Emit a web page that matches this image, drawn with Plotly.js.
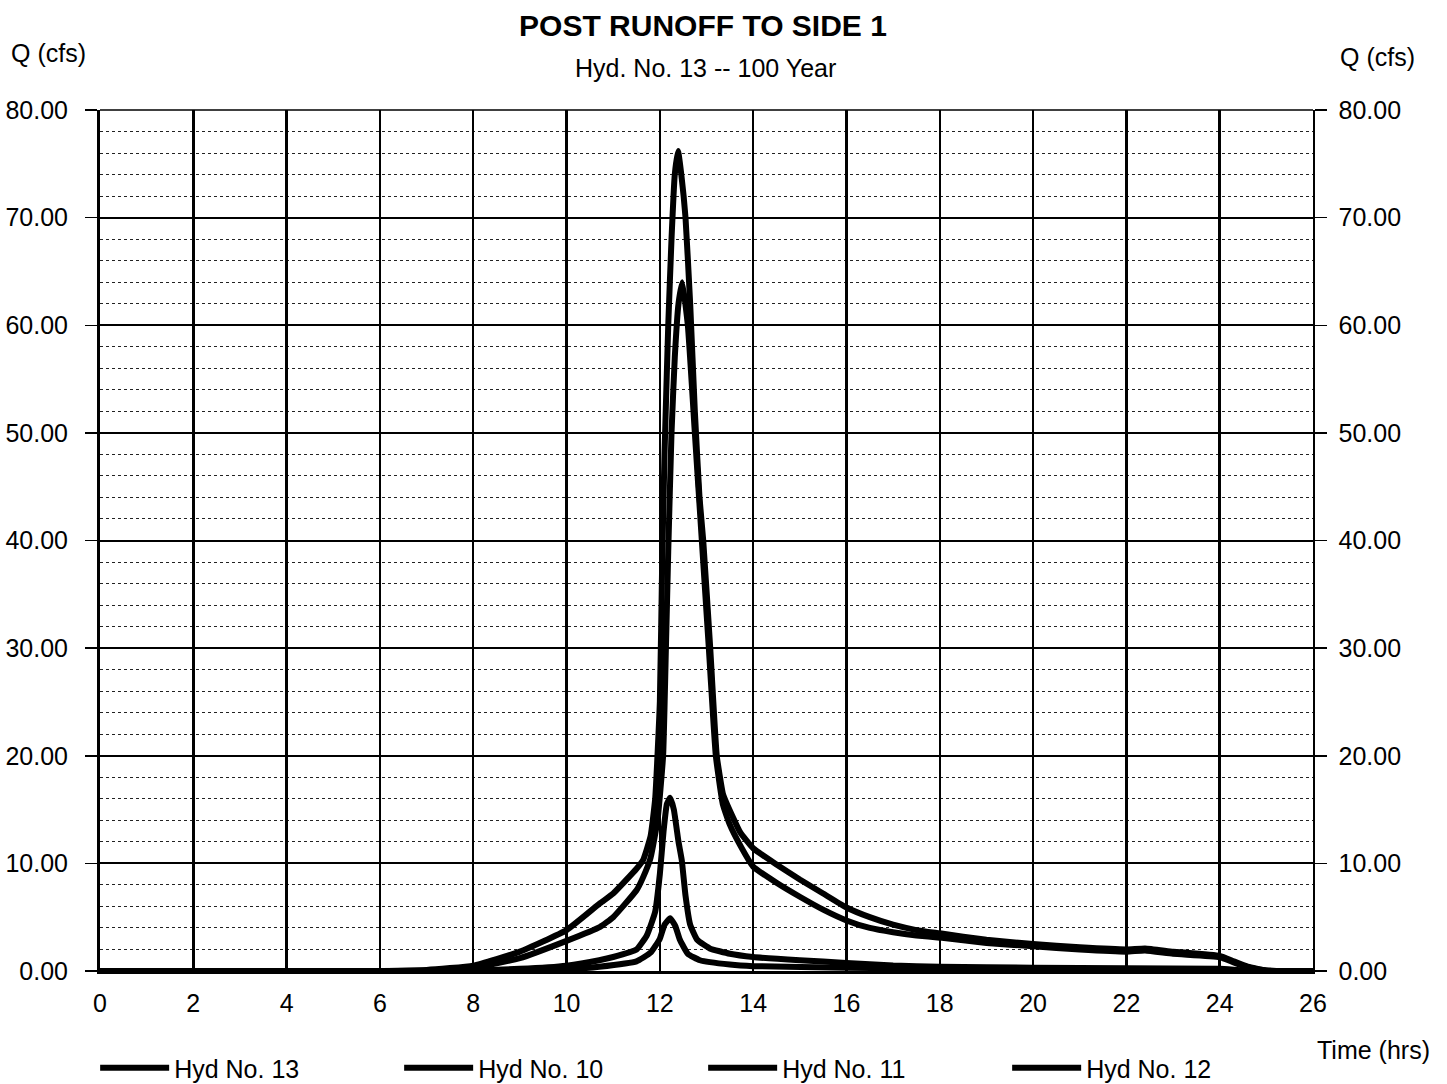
<!DOCTYPE html>
<html>
<head>
<meta charset="utf-8">
<script src="https://cdn.plot.ly/plotly-3.0.1.min.js"></script>
<style>html,body{margin:0;padding:0;background:#fff;}#chart{width:1447px;height:1084px;}</style>
</head>
<body>
<div id="chart"></div>
<script>
// ---- Data ----
var hyd13Time = [0, 6, 7, 8, 9, 10, 10.72, 11, 11.5, 11.64, 11.8, 11.9, 12.0, 12.05, 12.1, 12.18, 12.25, 12.32, 12.39, 12.46, 12.55, 12.65, 12.75, 12.85, 12.93, 13.08, 13.22, 13.35, 13.43, 13.72, 14.0, 14.5, 15.0, 15.5, 16.0, 16.5, 17.0, 17.5, 18.0, 19.0, 20.0, 21.0, 22.0, 22.4, 23.0, 24.0, 24.3, 24.6, 25.0, 26.0];
var hyd13Flow = [0, 0, 0.1, 0.5, 1.8, 3.8, 6.3, 7.2, 9.5, 10.3, 12.5, 16, 25, 38, 48, 60, 68, 74, 76.2, 74, 70, 62, 52, 44, 40, 30, 20, 16.5, 15.6, 12.9, 11.4, 9.9, 8.5, 7.2, 5.9, 5.0, 4.3, 3.8, 3.5, 2.9, 2.5, 2.2, 2.0, 2.1, 1.8, 1.4, 0.9, 0.4, 0.05, 0];

var hyd10Time = [0, 6, 7, 8, 9, 10, 10.72, 11, 11.5, 11.64, 11.8, 11.95, 12.07, 12.13, 12.18, 12.25, 12.32, 12.4, 12.48, 12.6, 12.75, 12.9, 13.05, 13.2, 13.35, 13.5, 13.72, 14.0, 14.5, 15.0, 15.5, 16.0, 16.5, 17.0, 17.5, 18.0, 19.0, 20.0, 21.0, 22.0, 22.4, 23.0, 24.0, 24.3, 24.6, 25.0, 26.0];
var hyd10Flow = [0, 0, 0.05, 0.3, 1.2, 2.8, 4.1, 5.0, 7.5, 8.7, 10.5, 14, 20, 30, 39, 50, 57, 62, 64, 60, 50, 40, 30, 20, 15.5, 13.6, 11.7, 9.7, 8.2, 6.9, 5.7, 4.7, 4.0, 3.6, 3.3, 3.1, 2.6, 2.3, 2.0, 1.8, 1.9, 1.6, 1.3, 0.8, 0.35, 0.05, 0];

var hyd11Time = [0, 6, 8, 9, 10, 10.7, 11, 11.5, 11.72, 11.9, 12.0, 12.08, 12.15, 12.22, 12.3, 12.4, 12.47, 12.55, 12.65, 12.8, 13.07, 13.5, 14, 15, 16, 17, 18, 20, 22, 24, 24.5, 25, 26];
var hyd11Flow = [0, 0, 0.05, 0.2, 0.5, 1.0, 1.3, 2.0, 3.3, 5.5, 9, 13, 15.5, 16.1, 15, 12, 10.3, 7, 4.3, 2.9, 2.1, 1.6, 1.3, 1.0, 0.75, 0.5, 0.4, 0.3, 0.25, 0.2, 0.05, 0, 0];

var hyd12Time = [0, 8, 9, 10, 10.7, 11.5, 11.8, 12.0, 12.1, 12.22, 12.33, 12.43, 12.6, 12.86, 13.5, 14, 16, 20, 24, 24.5, 26];
var hyd12Flow = [0, 0, 0.05, 0.15, 0.4, 0.9, 1.7, 3.0, 4.3, 4.9, 4.2, 2.9, 1.6, 1.0, 0.6, 0.45, 0.3, 0.15, 0.1, 0, 0];

var seriesNames = ['Hyd No. 13', 'Hyd No. 10', 'Hyd No. 11', 'Hyd No. 12'];
var xTicks = [0, 2, 4, 6, 8, 10, 12, 14, 16, 18, 20, 22, 24, 26];
var yTicks = [0, 10, 20, 30, 40, 50, 60, 70, 80];
var yTickLabels = ['0.00', '10.00', '20.00', '30.00', '40.00', '50.00', '60.00', '70.00', '80.00'];

// ---- Chart ----
var FONT = 'Liberation Sans, Arial, Helvetica, sans-serif';
function line(name, x, y) {
  return {
    type: 'scatter', mode: 'lines', name: name, x: x, y: y,
    line: {color: '#000', width: 6, shape: 'spline', smoothing: 0.4},
    hoverinfo: 'skip'
  };
}
var traces = [
  line(seriesNames[0], hyd13Time, hyd13Flow),
  line(seriesNames[1], hyd10Time, hyd10Flow),
  line(seriesNames[2], hyd11Time, hyd11Flow),
  line(seriesNames[3], hyd12Time, hyd12Flow),
  {type: 'scatter', mode: 'lines', x: hyd13Time, y: hyd13Flow, yaxis: 'y2',
   line: {width: 0, color: 'rgba(0,0,0,0)'}, showlegend: false, hoverinfo: 'skip'}
];

var layout = {
  width: 1447, height: 1084,
  paper_bgcolor: '#fff', plot_bgcolor: '#fff',
  margin: {l: 100, r: 134, t: 110, b: 113, pad: 0, autoexpand: false},
  font: {family: FONT, color: '#000', size: 25},
  title: {
    text: '<b>POST RUNOFF TO SIDE 1</b>',
    x: 703 / 1447, xanchor: 'center', xref: 'container',
    y: 1 - 25 / 1084, yanchor: 'middle', yref: 'container',
    font: {family: FONT, size: 30, color: '#000'}
  },
  xaxis: {
    range: [0, 26], tickvals: xTicks, ticktext: xTicks.map(String),
    showgrid: true, gridcolor: '#000', gridwidth: 2.5,
    showline: true, linecolor: '#000', linewidth: 3, mirror: false,
    ticks: '', ticklabelstandoff: 8, zeroline: false,
    tickfont: {family: FONT, size: 25, color: '#000'}, fixedrange: true
  },
  yaxis: {
    range: [0, 80], tickvals: yTicks, ticktext: yTickLabels,
    showgrid: true, gridcolor: '#000', gridwidth: 2,
    minor: {dtick: 2, showgrid: true, gridcolor: '#222', gridwidth: 1, griddash: 'dot', ticks: ''},
    showline: true, linecolor: '#000', linewidth: 3,
    ticks: 'outside', ticklen: 12, tickwidth: 1.5, tickcolor: '#000',
    ticklabelstandoff: 12, zeroline: false,
    tickfont: {family: FONT, size: 25, color: '#000'}, fixedrange: true
  },
  yaxis2: {
    overlaying: 'y', side: 'right', anchor: 'x',
    range: [0, 80], tickvals: yTicks, ticktext: yTickLabels,
    showgrid: false, showline: true, linecolor: '#000', linewidth: 1.5,
    ticks: 'outside', ticklen: 12, tickwidth: 1.5, tickcolor: '#000',
    ticklabelstandoff: 7, zeroline: false,
    tickfont: {family: FONT, size: 25, color: '#000'}, fixedrange: true
  },
  shapes: [
    {type: 'line', xref: 'paper', yref: 'paper', x0: 0, x1: 1, y0: 1, y1: 1, line: {color: '#000', width: 1.5}}
  ],
  annotations: [
    {text: 'Hyd. No. 13 -- 100 Year', xref: 'paper', yref: 'paper', x: (705 - 100) / 1213, y: (971 - 68) / 861,
     xanchor: 'center', yanchor: 'middle', showarrow: false, font: {family: FONT, size: 25, color: '#000'}},
    {text: 'Q (cfs)', xref: 'paper', yref: 'paper', x: (48 - 100) / 1213, y: (971 - 53) / 861,
     xanchor: 'center', yanchor: 'middle', showarrow: false, font: {family: FONT, size: 25, color: '#000'}},
    {text: 'Q (cfs)', xref: 'paper', yref: 'paper', x: (1377 - 100) / 1213, y: (971 - 57) / 861,
     xanchor: 'center', yanchor: 'middle', showarrow: false, font: {family: FONT, size: 25, color: '#000'}},
    {text: 'Time (hrs)', xref: 'paper', yref: 'paper', x: (1373 - 100) / 1213, y: (971 - 1050) / 861,
     xanchor: 'center', yanchor: 'middle', showarrow: false, font: {family: FONT, size: 25, color: '#000'}}
  ],
  legend: {
    orientation: 'h', x: -0.004, xanchor: 'left', xref: 'paper',
    y: (971 - 1068) / 861, yanchor: 'middle', yref: 'paper',
    itemwidth: 69, entrywidth: 220, entrywidthmode: 'pixels',
    font: {family: FONT, size: 25, color: '#000'},
    bgcolor: 'rgba(0,0,0,0)', borderwidth: 0, traceorder: 'normal'
  },
  showlegend: true
};

Plotly.newPlot('chart', traces, layout, {staticPlot: true, displayModeBar: false});
</script>
</body>
</html>
